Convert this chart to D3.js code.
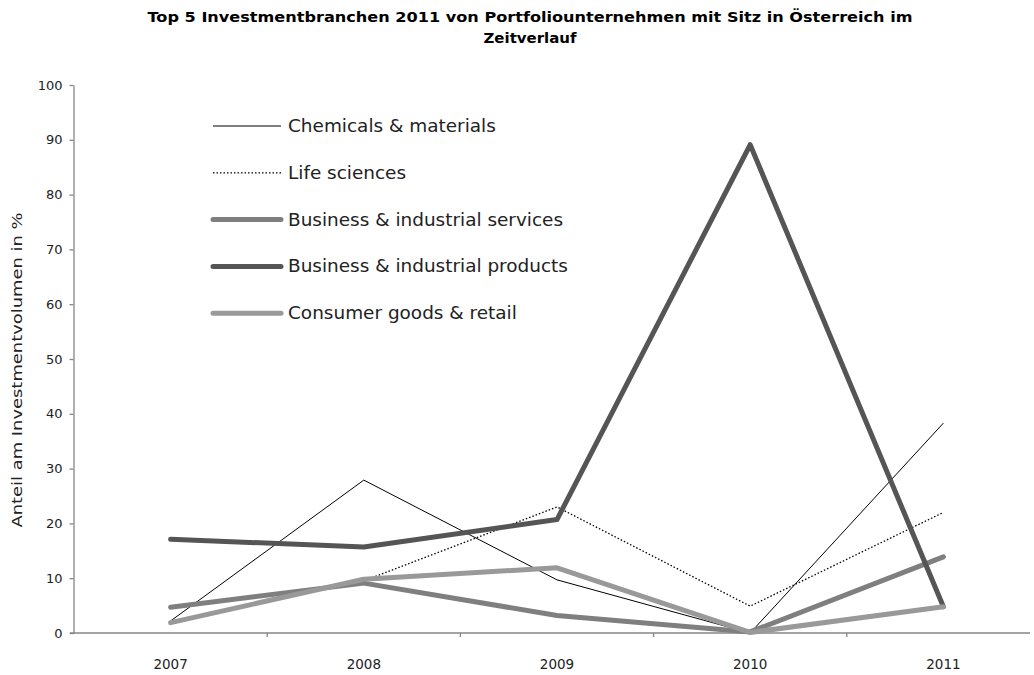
<!DOCTYPE html>
<html><head><meta charset="utf-8">
<script src="https://cdnjs.cloudflare.com/ajax/libs/d3/7.8.5/d3.min.js"></script>
<style>body{margin:0;background:#fff;}svg{display:block;}</style>
</head><body>
<svg id="chart" width="1034" height="675"></svg>
<script>
const years = ["2007","2008","2009","2010","2011"];
const seriesNames = ["Chemicals & materials","Life sciences","Business & industrial services","Business & industrial products","Consumer goods & retail"];
const chemicals = [2.2, 27.9, 9.7, 0.0, 38.3];
const lifeSciences = [2.0, 9.5, 23.0, 4.9, 22.0];
const services = [4.7, 9.1, 3.2, 0.2, 13.9];
const products = [17.1, 15.7, 20.7, 89.1, 4.8];
const consumer = [1.9, 9.8, 11.9, 0.1, 4.8];
const yTicks = [0,10,20,30,40,50,60,70,80,90,100];
const titleLines = ["Top 5 Investmentbranchen 2011 von Portfoliounternehmen mit Sitz in Österreich im","Zeitverlauf"];
const yTitle = "Anteil am Investmentvolumen in %";

const styles = [
  {color:"#000000", width:1, dash:null},
  {color:"#000000", width:1.3, dash:"1.5,2"},
  {color:"#7f7f7f", width:5, dash:null},
  {color:"#555555", width:5, dash:null},
  {color:"#999999", width:5, dash:null}
];
const seriesData = [chemicals, lifeSciences, services, products, consumer];

const svg = d3.select("#chart");
const font = "'DejaVu Sans', sans-serif";

const x = d3.scaleBand().domain(years).range([74, 1040]);
const y = d3.scaleLinear().domain([0,100]).range([633, 85]);

// title
const titleWidths = [765, 93];
svg.selectAll("text.title").data(titleLines).enter().append("text")
  .attr("class","title")
  .attr("x", 530).attr("y",(d,i)=>22+i*21)
  .attr("text-anchor","middle")
  .attr("font-family", font).attr("font-weight","bold").attr("font-size",14)
  .attr("fill","#000")
  .attr("textLength",(d,i)=>titleWidths[i]).attr("lengthAdjust","spacingAndGlyphs")
  .text(d=>d);

// y axis
const yAxis = svg.append("g").attr("transform","translate(73.5,0)")
  .call(d3.axisLeft(y).tickValues(yTicks).tickSize(4).tickSizeOuter(0));
yAxis.select(".domain").attr("stroke","#868686").attr("stroke-width",1.3);
yAxis.selectAll(".tick line").attr("stroke","#868686").attr("stroke-width",1.3);
yAxis.selectAll(".tick text").attr("font-family",font).attr("font-size",13).attr("fill","#222").attr("x",-11);

// x axis
const xAxis = svg.append("g").attr("transform","translate(0,633)")
  .call(d3.axisBottom(x).tickSize(0).tickPadding(0));
xAxis.select(".domain").remove();
xAxis.selectAll(".tick text").attr("font-family",font).attr("font-size",13.5).attr("fill","#222")
  .attr("dy",null).attr("y",36);
svg.append("line").attr("x1",70).attr("x2",1030).attr("y1",633).attr("y2",633)
  .attr("stroke","#868686").attr("stroke-width",1.3);
svg.selectAll("line.sep").data(years.slice(1)).enter().append("line")
  .attr("class","sep")
  .attr("x1",d=>x(d)).attr("x2",d=>x(d)).attr("y1",633).attr("y2",637)
  .attr("stroke","#868686").attr("stroke-width",1.3);

// y title
svg.append("text")
  .attr("transform","translate(22,370) rotate(-90)")
  .attr("text-anchor","middle")
  .attr("font-family",font).attr("font-size",14).attr("fill","#222")
  .attr("textLength",315).attr("lengthAdjust","spacingAndGlyphs")
  .text(yTitle);

// lines
const line = d3.line().x((d,i)=>x(years[i])+x.bandwidth()/2).y(d=>y(d));
seriesData.forEach((vals,k)=>{
  const s = styles[k];
  svg.append("path").datum(vals)
    .attr("d", line)
    .attr("fill","none")
    .attr("stroke", s.color)
    .attr("stroke-width", s.width)
    .attr("stroke-linecap", s.width>2 ? "round" : "butt")
    .attr("stroke-linejoin","round")
    .attr("stroke-dasharray", s.dash);
});

// legend
const leg = svg.append("g");
const probe = leg.append("text").attr("font-family",font).attr("font-size",16).text(seriesNames[0]);
const legSize = 16 * 208 / probe.node().getComputedTextLength();
probe.remove();
seriesNames.forEach((name,k)=>{
  const s = styles[k];
  const yy = 126 + k*46.8;
  leg.append("line").attr("x1",213).attr("x2",281).attr("y1",yy).attr("y2",yy)
    .attr("stroke",s.color).attr("stroke-width",s.width)
    .attr("stroke-linecap", s.width>2 ? "round":"butt")
    .attr("stroke-dasharray", s.dash);
  leg.append("text").attr("x",288).attr("y",yy+6)
    .attr("font-family",font).attr("font-size",legSize).attr("fill","#222")
    .text(name);
});
</script>
</body></html>
